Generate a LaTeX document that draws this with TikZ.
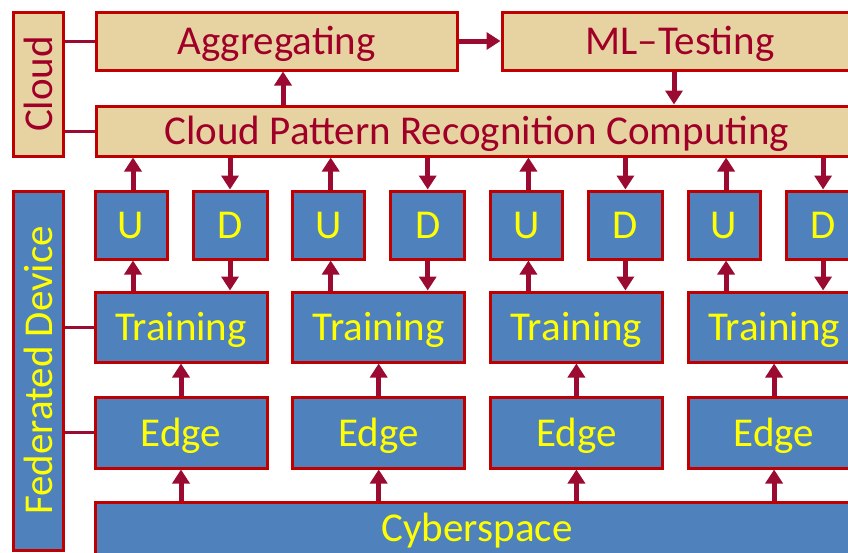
\documentclass[tikz,border=0pt]{standalone}
\usepackage{fontspec}
\setmainfont{Carlito}
\usetikzlibrary{arrows.meta,shadows,calc}
\definecolor{boxblue}{RGB}{79,129,189}
\definecolor{boxred}{RGB}{192,0,0}
\definecolor{arrred}{RGB}{155,10,48}
\definecolor{papyrus}{RGB}{231,211,161}
\definecolor{ctext}{RGB}{160,0,40}
\definecolor{ytext}{RGB}{255,255,0}
\tikzset{
  base/.style={draw=boxred, line width=3pt, rectangle, inner sep=0pt,
    font=\fontsize{41}{48}\selectfont,
    drop shadow={shadow xshift=1.5pt, shadow yshift=-1.5pt, opacity=0.3, fill=black}},
  htext/.style={text height=27pt, text depth=0pt},
  cloudbox/.style={base, fill=papyrus, text=ctext},
  devbox/.style={base, fill=boxblue, text=ytext},
  arr/.style={draw=arrred, line width=5pt, -{Triangle[width=17pt,length=14pt]}},
  link/.style={draw=arrred, line width=3pt},
}
\begin{document}
\begin{tikzpicture}[x=1pt,y=-1pt]
\useasboundingbox (0,0) rectangle (848,552);
\clip (0,0) rectangle (848,552);

% Cloud layer
\node[cloudbox, minimum width=50pt, minimum height=144pt] (cloudlbl) at (38,84) {\rotatebox{90}{Cloud}};
\node[cloudbox, htext, minimum width=361pt, minimum height=58pt] (agg) at (276.5,41) {Aggregating};
\node[cloudbox, htext, minimum width=356pt, minimum height=58pt] (ml) at (680,41) {ML–Testing};
\node[cloudbox, htext, minimum width=762pt, minimum height=50pt] (cpr) at (477,131) {Cloud Pattern Recognition Computing};

% Device layer
\node[devbox, minimum width=50pt, minimum height=359pt] (fed) at (38,370.5) {\rotatebox{90}{Federated Device}};
\node[devbox, htext, minimum width=764pt, minimum height=52pt] (cyb) at (477,528) {Cyberspace};

\foreach \i in {1,2,3,4}{
  \pgfmathsetmacro{\dx}{197.7*(\i-1)}
  \node[devbox, htext, minimum width=72pt, minimum height=68pt] (u\i) at (131+\dx,225) {U};
  \node[devbox, htext, minimum width=74pt, minimum height=68pt] (d\i) at (230+\dx,225) {D};
  \node[devbox, htext, minimum width=172pt, minimum height=70pt] (tr\i) at (181+\dx,327) {Training};
  \node[devbox, htext, minimum width=172pt, minimum height=71pt] (ed\i) at (181+\dx,432.5) {Edge};
}

% label links
\draw[link] (cloudlbl.east |- agg.west) -- (agg.west);
\draw[link] (cloudlbl.east |- cpr.west) -- (cpr.west);
\draw[link] (fed.east |- tr1.west) -- (tr1.west);
\draw[link] (fed.east |- ed1.west) -- (ed1.west);

% cloud arrows
\draw[arr] ([xshift=6.5pt]agg.south |- cpr.north) -- ([xshift=6.5pt]agg.south);
\draw[arr] (agg.east) -- (ml.west);
\draw[arr] ([xshift=-6pt]ml.south) -- ([xshift=-6pt]ml.south |- cpr.north);

% device arrows
\foreach \i in {1,2,3,4}{
  \draw[arr] ([xshift=2pt]u\i.north) -- ([xshift=2pt]u\i.north |- cpr.south);
  \draw[arr] ([xshift=2pt]u\i.south |- tr\i.north) -- ([xshift=2pt]u\i.south);
  \draw[arr] (d\i.north |- cpr.south) -- (d\i.north);
  \draw[arr] (d\i.south) -- (d\i.south |- tr\i.north);
  \draw[arr] (ed\i.north) -- (tr\i.south);
  \draw[arr] (ed\i.south |- cyb.north) -- (ed\i.south);
}
\end{tikzpicture}
\end{document}
